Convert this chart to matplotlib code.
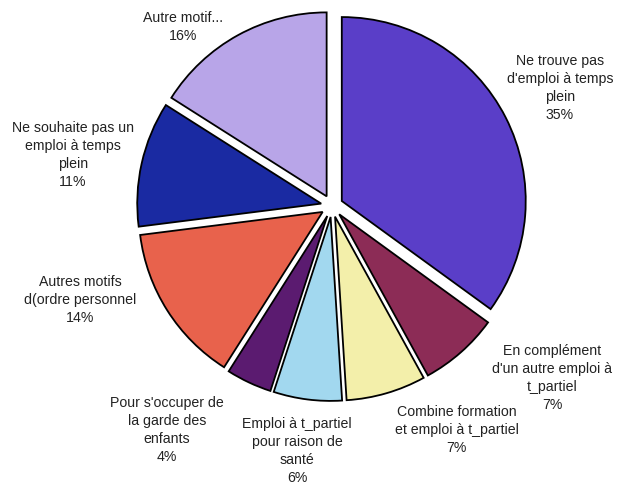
import matplotlib
matplotlib.use("Agg")
import matplotlib.pyplot as plt

plt.rcParams['font.family'] = ['Liberation Sans', 'DejaVu Sans']

# slices, clockwise from 12 o'clock
labels = ["Ne trouve pas\nd'emploi à temps\nplein",
          "En complément\nd'un autre emploi à\nt_partiel",
          "Combine formation\net emploi à t_partiel",
          "Emploi à t_partiel\npour raison de\nsanté",
          "Pour s'occuper de\nla garde des\nenfants",
          "Autres motifs\nd(ordre personnel",
          "Ne souhaite pas un\nemploi à temps\nplein",
          "Autre motif..."]
values = [35, 7, 7, 6, 4, 14, 11, 16]

colors = ['#5a3ec8', '#8c2c56', '#f3efaa', '#a2d8ef',
          '#5b1b70', '#e8624c', '#1a2aa2', '#b8a5e8']

# label centres in data units (pie radius = 1)
label_pos = [(1.239, 0.641), (1.196, -0.935), (0.679, -1.217), (-0.190, -1.332),
             (-0.897, -1.217), (-1.370, -0.511), (-1.408, 0.277), (-0.810, 0.973)]

fig = plt.figure(figsize=(6.24, 4.88), dpi=100)
ax = fig.add_axes([0, 0, 1, 1])

ax.pie(values,
       explode=[0.06] * len(values),
       colors=colors,
       startangle=90,
       counterclock=False,
       radius=1,
       wedgeprops=dict(edgecolor='black', linewidth=1.3))

for lab, v, (x, y) in zip(labels, values, label_pos):
    ax.text(x, y, lab + "\n" + str(v) + "%", ha='center', va='center',
            fontsize=10.2, color='#222222', linespacing=1.38)

ax.set_aspect('equal')
ax.set_xlim(-1.804, 1.587)
ax.set_ylim(-1.533, 1.120)
ax.axis('off')

plt.savefig("out.png", dpi=100)
plt.close()
